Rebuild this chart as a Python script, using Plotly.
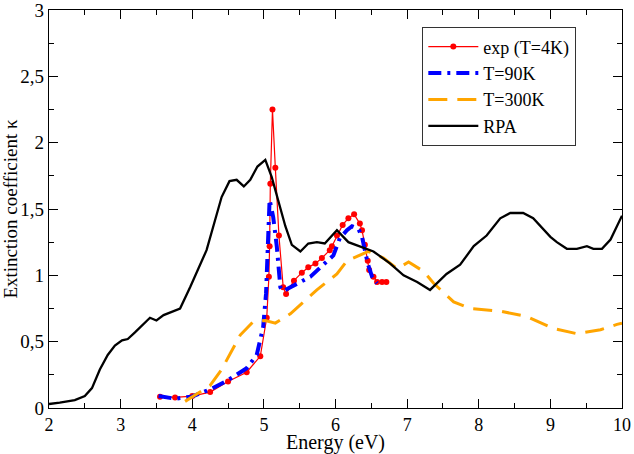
import plotly.graph_objects as go

# RPA (black)
rpa_x = [2.0, 2.15, 2.36, 2.5, 2.6, 2.71, 2.82, 2.92, 3.02, 3.1, 3.2, 3.3, 3.41, 3.5, 3.6, 3.83, 3.97,
         4.2, 4.41, 4.52, 4.62, 4.72, 4.81, 4.91, 5.02, 5.11, 5.2, 5.3, 5.39, 5.51, 5.62, 5.74, 5.85,
         6.02, 6.18, 6.34, 6.53, 6.76, 6.95, 7.14, 7.32, 7.55, 7.74, 7.93, 8.11, 8.30, 8.44, 8.62,
         8.76, 9.0, 9.09, 9.23, 9.37, 9.51, 9.60, 9.72, 9.84, 10.0]
rpa_y = [0.03, 0.04, 0.06, 0.09, 0.15, 0.29, 0.40, 0.47, 0.51, 0.52, 0.57, 0.62, 0.68, 0.66, 0.70, 0.75, 0.91,
         1.19, 1.59, 1.71, 1.72, 1.67, 1.72, 1.82, 1.87, 1.74, 1.57, 1.37, 1.23, 1.18, 1.24, 1.25, 1.24,
         1.34, 1.25, 1.22, 1.18, 1.09, 1.00, 0.95, 0.89, 1.01, 1.08, 1.22, 1.30, 1.43, 1.47, 1.47,
         1.43, 1.29, 1.25, 1.20, 1.20, 1.22, 1.20, 1.20, 1.27, 1.45]

# T=300K (orange dashed)
t300_x = [3.9, 4.25, 4.41, 4.53, 4.67, 4.85, 5.02, 5.16, 5.37, 5.74, 6.02, 6.16, 6.34, 6.46, 6.67,
          6.86, 7.02, 7.23, 7.37, 7.65, 7.88, 8.30, 8.67, 9.04, 9.37, 9.70, 9.93, 10.0]
t300_y = [0.05, 0.17, 0.29, 0.41, 0.55, 0.65, 0.66, 0.64, 0.71, 0.89, 1.01, 1.11, 1.15, 1.18, 1.13,
          1.05, 1.10, 1.03, 0.94, 0.80, 0.75, 0.73, 0.69, 0.60, 0.56, 0.59, 0.63, 0.64]

# T=90K (blue dash-dot)
t90_x = [3.53, 3.76, 3.99, 4.25, 4.5, 4.76, 4.9, 4.99, 5.03, 5.06, 5.08, 5.13, 5.18, 5.23, 5.27, 5.37,
         5.51, 5.65, 5.83, 5.97, 6.06, 6.16, 6.23, 6.32, 6.37, 6.41, 6.45, 6.51, 6.58]
t90_y = [0.09, 0.07, 0.085, 0.14, 0.21, 0.30, 0.40, 0.61, 0.86, 1.37, 1.57, 1.44, 1.22, 0.91, 0.88, 0.91,
         0.95, 0.99, 1.08, 1.15, 1.28, 1.34, 1.37, 1.35, 1.29, 1.18, 1.09, 0.99, 0.94]

# exp T=4K (red with markers)
exp_x = [3.55, 3.76, 4.0, 4.25, 4.5, 4.76, 4.95, 5.04, 5.07, 5.08, 5.09, 5.12, 5.16, 5.21, 5.27, 5.31,
         5.42, 5.53, 5.62, 5.72, 5.81, 5.92, 5.95, 6.02, 6.10, 6.18, 6.26, 6.34, 6.37, 6.41, 6.45,
         6.47, 6.53, 6.58, 6.65, 6.71]
exp_y = [0.085, 0.08, 0.09, 0.12, 0.20, 0.27, 0.39, 0.68, 0.99, 1.22, 1.69, 2.25, 1.81, 1.30, 0.91, 0.86,
         0.96, 1.02, 1.06, 1.09, 1.13, 1.19, 1.22, 1.30, 1.38, 1.43, 1.46, 1.39, 1.34, 1.23, 1.11,
         1.04, 0.99, 0.95, 0.95, 0.95]

x_ticks = [2, 3, 4, 5, 6, 7, 8, 9, 10]
y_ticks = [0, 0.5, 1, 1.5, 2, 2.5, 3]
y_ticktext = ["0", "0,5", "1", "1,5", "2", "2,5", "3"]
x_title = "Energy (eV)"
y_title = "Extinction coefficient κ"

FONT = "'Liberation Serif', 'DejaVu Serif', serif"

fig = go.Figure()
fig.add_trace(go.Scatter(x=exp_x, y=exp_y, mode="lines+markers", name="exp (T=4K)",
                         line=dict(color="#ff0000", width=1.2),
                         marker=dict(color="#ff0000", size=6)))
fig.add_trace(go.Scatter(x=t90_x, y=t90_y, mode="lines", name="T=90K",
                         line=dict(color="#0000ff", width=4, dash="13px,6px,3px,6px")))
fig.add_trace(go.Scatter(x=t300_x, y=t300_y, mode="lines", name="T=300K",
                         line=dict(color="#ffa500", width=3, dash="19px,10px")))
fig.add_trace(go.Scatter(x=rpa_x, y=rpa_y, mode="lines", name="RPA",
                         line=dict(color="black", width=2.3)))

axis_common = dict(showline=True, linecolor="black", linewidth=1.3, mirror="ticks",
                   ticks="inside", ticklen=9, tickcolor="black", tickwidth=1.2,
                   showgrid=False, zeroline=False, automargin=False,
                   ticklabeloverflow="allow")

fig.update_xaxes(range=[2, 10], tickvals=x_ticks,
                 tickfont=dict(family=FONT, size=18, color="black"),
                 minor=dict(ticks="inside", ticklen=5, dtick=0.5, tickcolor="black", showgrid=False),
                 **axis_common)
fig.update_yaxes(range=[0, 3], tickvals=y_ticks, ticktext=y_ticktext,
                 tickfont=dict(family=FONT, size=19, color="black"),
                 minor=dict(ticks="inside", ticklen=5, dtick=0.25, tickcolor="black", showgrid=False),
                 title=dict(text=y_title, font=dict(family=FONT, size=19, color="black")),
                 **axis_common)

fig.add_annotation(text=x_title, xref="paper", yref="paper", x=0.5, y=-0.087,
                   xanchor="center", yanchor="middle", showarrow=False,
                   font=dict(family=FONT, size=20, color="black"))

fig.update_layout(
    width=634, height=454,
    margin=dict(l=49, r=12, t=10, b=46),
    paper_bgcolor="white", plot_bgcolor="white",
    showlegend=True,
    legend=dict(x=0.651, y=0.957, xanchor="left", yanchor="top",
                bgcolor="white", bordercolor="#333", borderwidth=1.3,
                font=dict(family=FONT, size=18, color="black"),
                itemwidth=50, tracegroupgap=0),
)

fig.write_html("out.html")
